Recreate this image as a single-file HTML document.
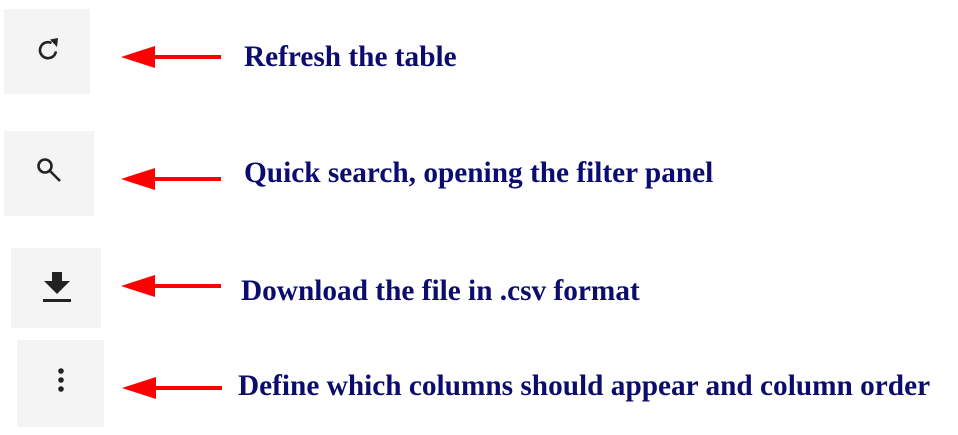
<!DOCTYPE html>
<html><head><style>
body{margin:0;width:958px;height:435px;background:#fff;position:relative;overflow:hidden;font-family:"Liberation Serif",serif}
.b{position:absolute;background:#f4f4f4}
.t{position:absolute;font-weight:bold;font-size:29.3px;color:#0c0c6e;white-space:nowrap;line-height:32px}
svg{position:absolute;left:0;top:0}
</style></head><body>
<div class="b" style="left:4px;top:9px;width:86px;height:85px"></div>
<div class="b" style="left:4px;top:131px;width:90px;height:85px"></div>
<div class="b" style="left:11px;top:248px;width:90px;height:80px"></div>
<div class="b" style="left:17px;top:340px;width:87px;height:87px"></div>
<svg width="958" height="435">
<g fill="none" stroke="#222" stroke-width="2.6">
<path d="M55.9 51.4 A8 8 0 1 1 51.5 43"/>
<circle cx="45" cy="166" r="6.5"/>
<line x1="50" y1="171" x2="60" y2="181"/>
</g>
<polygon points="50,39.5 58,38 57,47" fill="#222"/>
<g fill="#222">
<rect x="52" y="272" width="10" height="10"/>
<polygon points="44,281 70,281 57,294"/>
<rect x="43" y="299" width="28" height="3"/>
<circle cx="61" cy="371" r="2.8"/><circle cx="61" cy="380" r="2.8"/><circle cx="61" cy="389" r="2.8"/>
</g>
<g fill="#f00">
<polygon points="121,57 155,46 155,68"/><rect x="153" y="55" width="68" height="4"/>
<polygon points="121,179 155,168 155,190"/><rect x="153" y="177" width="68" height="4"/>
<polygon points="121,286 155,275 155,297"/><rect x="153" y="284" width="68" height="4"/>
<polygon points="122,388 156,377 156,399"/><rect x="154" y="386" width="68" height="4"/>
</g>
</svg>
<div class="t" style="left:244px;top:41px">Refresh the table</div>
<div class="t" style="left:244px;top:157px">Quick search, opening the filter panel</div>
<div class="t" style="left:241px;top:275px">Download the file in .csv format</div>
<div class="t" style="left:238px;top:370px">Define which columns should appear and column order</div>
</body></html>
